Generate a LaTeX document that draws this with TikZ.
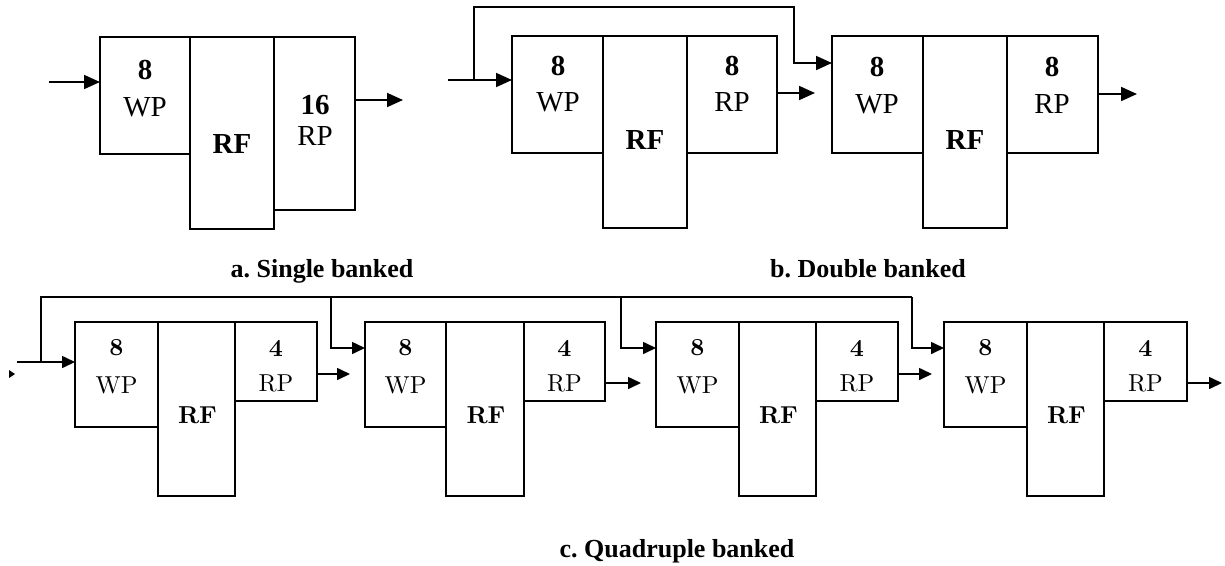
\documentclass[tikz,border=0pt]{standalone}
\usepackage{fontspec}
\setmainfont{Liberation Serif}
\newfontfamily\cmfont{lmroman10-regular.otf}[BoldFont=lmroman10-bold.otf]
\usetikzlibrary{arrows.meta,fit}
\frenchspacing
\begin{document}
\begin{tikzpicture}[x=1pt,y=-1pt,
  boxa/.style={draw, line width=1.8pt, inner sep=0pt, outer sep=0pt},
  boxc/.style={draw, line width=1.6pt, inner sep=0pt, outer sep=0pt},
  arra/.style={line width=1.8pt, -{Triangle[length=16pt,width=14pt]}},
  arrc/.style={line width=1.6pt, -{Triangle[length=13pt,width=12pt]}},
  linec/.style={line width=1.6pt},
  ta/.style={inner sep=0pt, font=\fontsize{29}{34}\selectfont},
  tab/.style={inner sep=0pt, font=\fontsize{29}{34}\selectfont\bfseries},
  tc/.style={inner sep=0pt, font=\cmfont\fontsize{24.5}{29}\selectfont},
  tcb/.style={inner sep=0pt, font=\cmfont\fontsize{24.5}{29}\selectfont\bfseries},
  captext/.style={inner sep=0pt, anchor=base, font=\fontsize{26}{30}\selectfont\bfseries}]
\useasboundingbox (0,0) rectangle (1225,565);

% ---------- a. Single banked ----------
\node[boxa, fit={(100,37) (190,154)}] (awp) {};
\node[boxa, fit={(190,37) (274,229)}] (arf) {};
\node[boxa, fit={(274,37) (355,210)}] (arp) {};
\node[tab] (a8) at (145,70) {8};
\node[ta] (awpt) at (145,107) {WP};
\node[tab] (arft) at (232,144) {RF};
\node[tab] (a16) at (315,105) {16};
\node[ta] (arpt) at (315,136) {RP};
\coordinate (ain) at (49,82);
\coordinate (aout) at (403,100);
\draw[arra] (ain) -- (awp.west |- ain);
\draw[arra] (arp.east |- aout) -- (aout);
\node[captext] (capa) at (322,277) {a. Single banked};

% ---------- b. Double banked ----------
\node[boxa, fit={(512,36) (603,153)}] (bwp1) {};
\node[boxa, fit={(603,36) (687,228)}] (brf1) {};
\node[boxa, fit={(687,36) (777,153)}] (brp1) {};
\node[boxa, fit={(832,36) (923,153)}] (bwp2) {};
\node[boxa, fit={(923,36) (1007,228)}] (brf2) {};
\node[boxa, fit={(1007,36) (1098,153)}] (brp2) {};
\node[tab] (b8a) at (558,66) {8};
\node[ta] (bwpt1) at (558,102) {WP};
\node[tab] (brft1) at (645,140) {RF};
\node[tab] (b8b) at (732,66) {8};
\node[ta] (brpt1) at (732,102) {RP};
\node[tab] (b8c) at (877,67) {8};
\node[ta] (bwpt2) at (877,104) {WP};
\node[tab] (brft2) at (965,140) {RF};
\node[tab] (b8d) at (1052,67) {8};
\node[ta] (brpt2) at (1052,104) {RP};
\coordinate (bin) at (448,80);
\coordinate (bj) at (474,80);
\coordinate (bt1) at (474,7);
\coordinate (bt2) at (794,7);
\coordinate (bf) at (794,63);
\coordinate (bo1) at (815,93);
\coordinate (bo2) at (1137,94);
\draw[arra] (bin) -- (bwp1.west |- bin);
\draw[arra] (bj) -- (bt1) -- (bt2) -- (bf) -- (bf -| bwp2.west);
\draw[arra] (brp1.east |- bo1) -- (bo1);
\draw[arra] (brp2.east |- bo2) -- (bo2);
\node[captext] (capb) at (868,277) {b. Double banked};

% ---------- c. Quadruple banked ----------
\foreach \k/\wl/\wr/\rr/\pr/\oy/\ox in {1/75/158/235/317/374/350,
                                       2/365/446/524/605/383/641,
                                       3/656/739/816/898/374/932,
                                       4/944/1027/1104/1187/383/1222}{
  \node[boxc, fit={(\wl,322) (\wr,427)}] (cwp\k) {};
  \node[boxc, fit={(\wr,322) (\rr,496)}] (crf\k) {};
  \node[boxc, fit={(\rr,322) (\pr,401)}] (crp\k) {};
  \node[tcb] (c8\k) at ({(\wl+\wr)/2},348) {8};
  \node[tc] (cwpt\k) at ({(\wl+\wr)/2},385) {WP};
  \node[tcb] (crft\k) at ({(\wr+\rr)/2+1},415) {RF};
  \node[tcb] (c4\k) at ({(\rr+\pr)/2},348) {4};
  \node[tc] (crpt\k) at ({(\rr+\pr)/2},383) {RP};
  \coordinate (co\k) at (\ox,\oy);
  \draw[arrc] (crp\k.east |- co\k) -- (co\k);
}
\coordinate (cin) at (17,362);
\coordinate (cj) at (41,362);
\coordinate (ctop) at (41,297);
\draw[arrc] (cin) -- (cwp1.west |- cin);
\foreach \k/\fx in {2/331,3/621,4/912}{
  \coordinate (cf\k) at (\fx,297);
  \coordinate (cfy\k) at (\fx,348);
  \draw[arrc] (cf\k) -- (cfy\k) -- (cfy\k -| cwp\k.west);
}
\draw[linec] (cj) -- (ctop) -- (cf4);
\fill (9,370) -- (15,374) -- (9,378) -- cycle;
\node[captext] (capc) at (677,557) {c. Quadruple banked};
\end{tikzpicture}
\end{document}
